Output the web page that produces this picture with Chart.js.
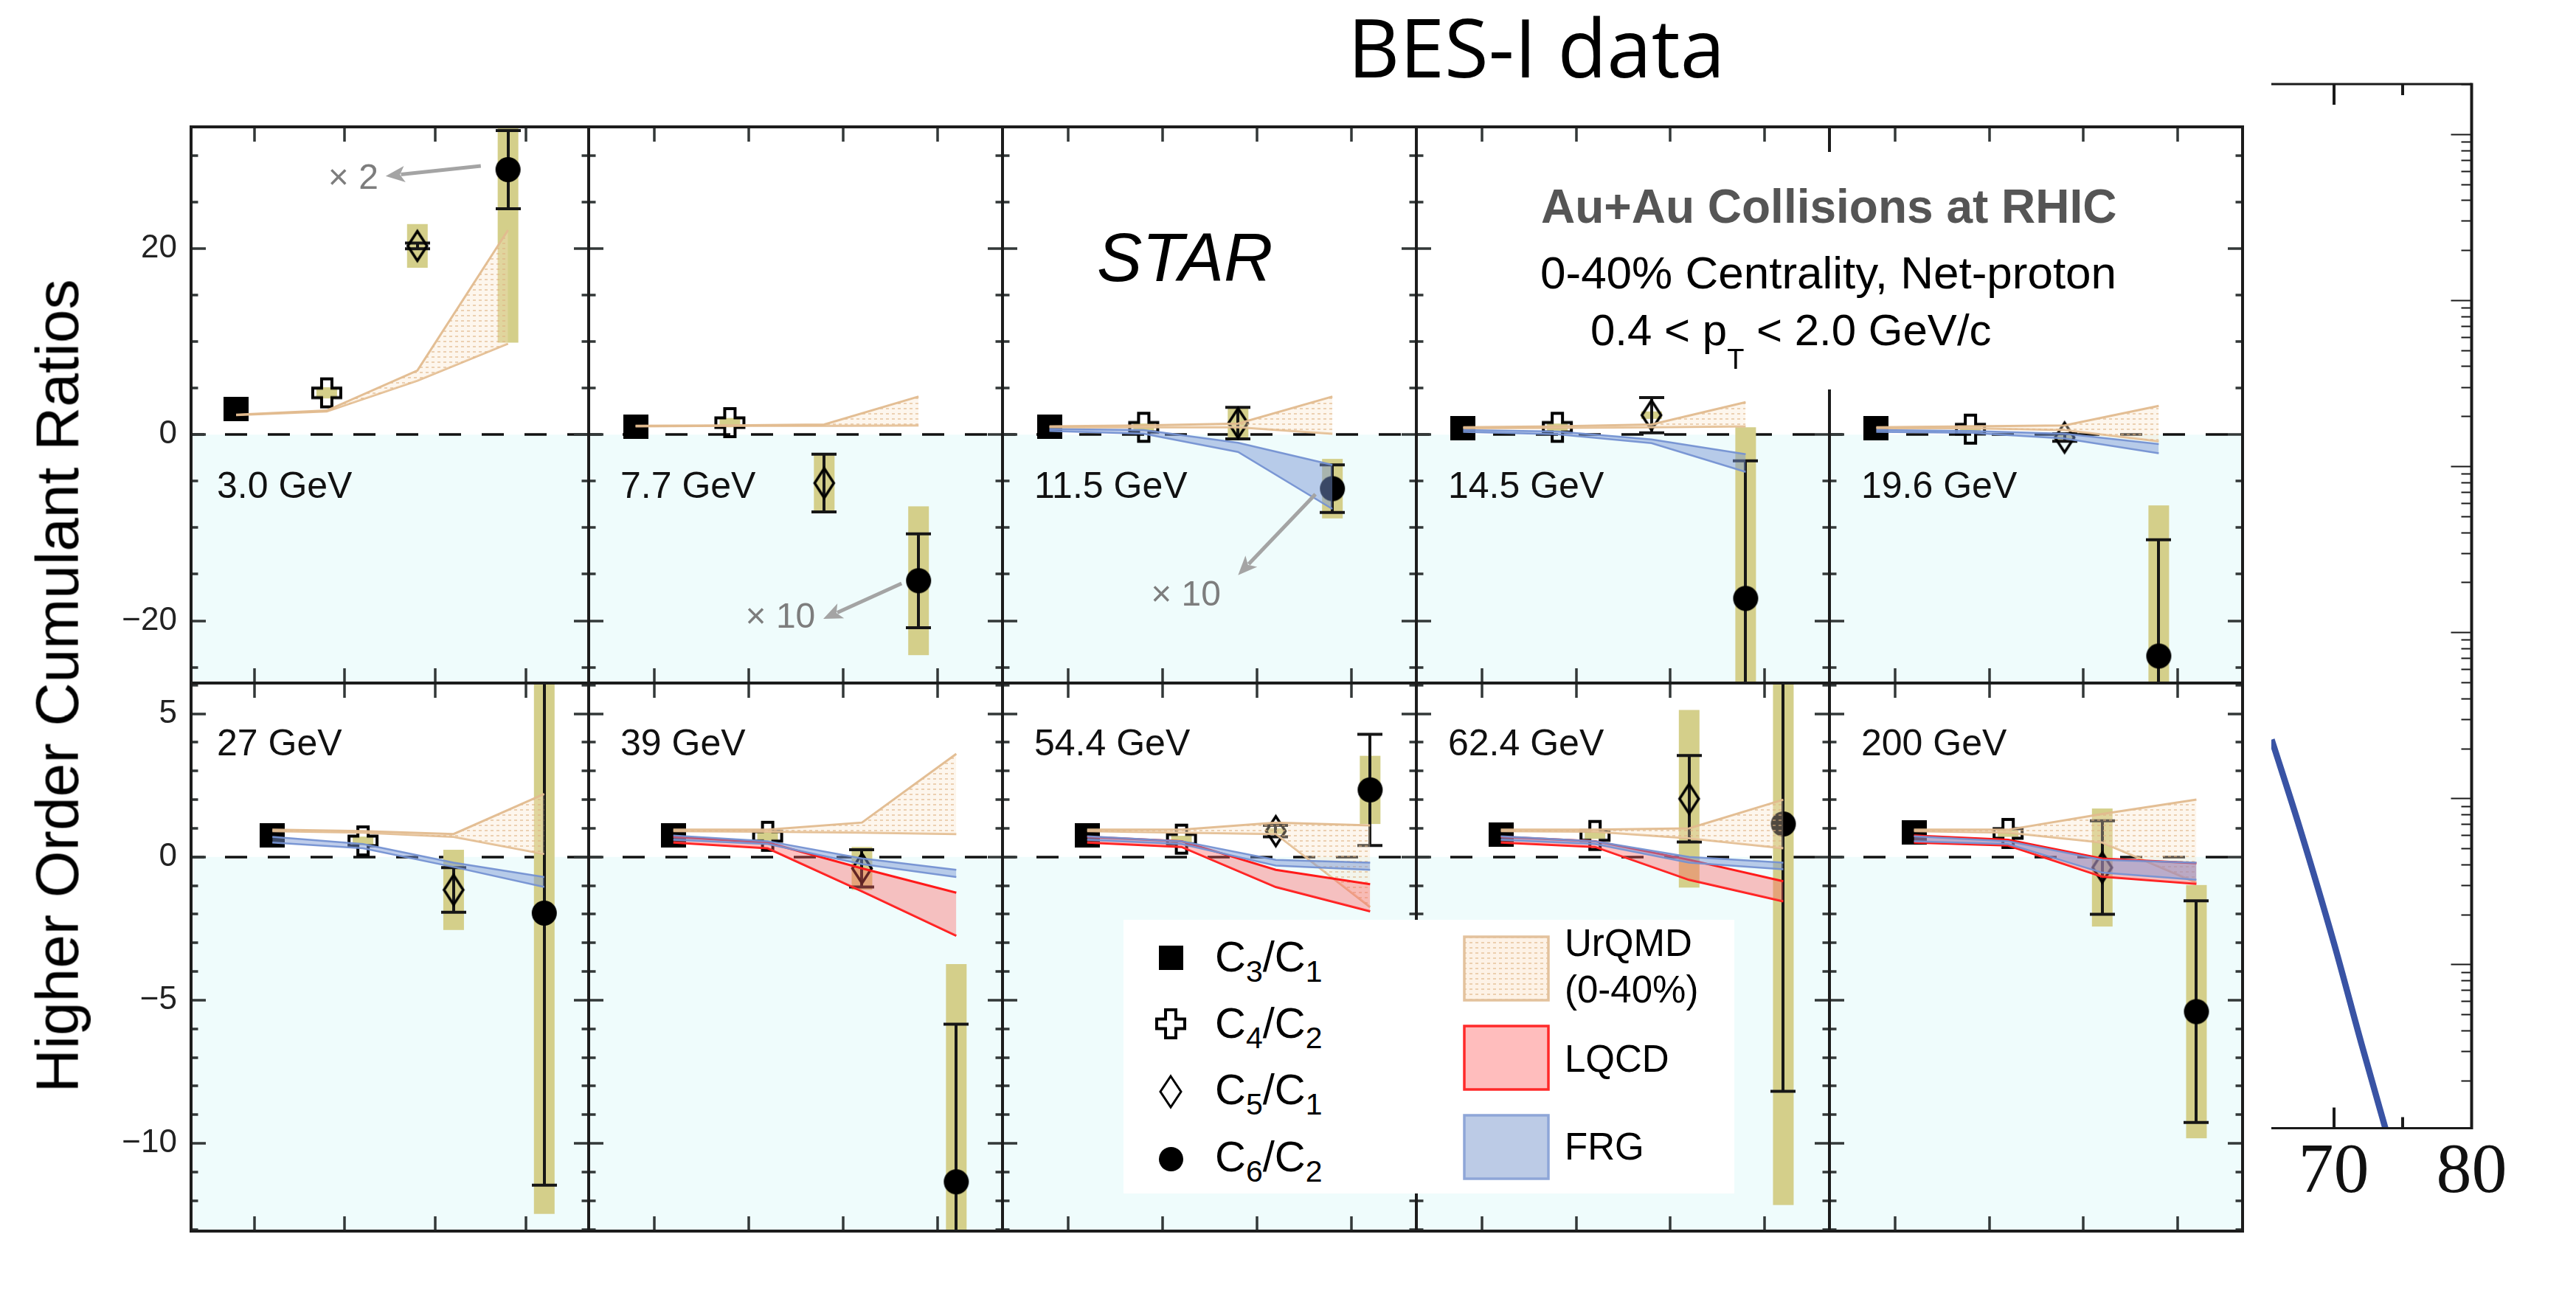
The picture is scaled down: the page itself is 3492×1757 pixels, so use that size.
<!DOCTYPE html>
<html>
<head>
<meta charset="utf-8">
<title>Higher Order Cumulant Ratios — BES-I data</title>
<script src="https://cdn.jsdelivr.net/npm/chart.js@4/dist/chart.umd.min.js"></script>
<style>
  html, body { margin: 0; padding: 0; background: #fff; }
  #fig { position: relative; width: 3492px; height: 1757px; overflow: hidden; background: #fff;
         font-family: "Liberation Sans", Arial, Helvetica, sans-serif; color: #000; }
  #fig canvas { position: absolute; }
  .txt { position: absolute; white-space: nowrap; line-height: 1; }
  .box { position: absolute; background: #fff; }
</style>
</head>
<body>
<div id="fig"></div>
<script>
// ---------------- data ----------------
// one panel per collision energy: top row 3.0–19.6 GeV, bottom row 27–200 GeV
const energies = ["3.0 GeV", "7.7 GeV", "11.5 GeV", "14.5 GeV", "19.6 GeV",
                  "27 GeV", "39 GeV", "54.4 GeV", "62.4 GeV", "200 GeV"];
const ratios = ["C3/C1", "C4/C2", "C5/C1", "C6/C2"];

// measured net-proton cumulant ratios, per energy
const c3c1     = [2.8, 0.9, 0.83, 0.7, 0.7, 0.75, 0.75, 0.75, 0.78, 0.85];
const c4c2     = [4.5, 1.3, 0.8, 0.8, 0.6, 0.56, 0.72, 0.62, 0.75, 0.82];
const c4c2Sys  = [0.6, 0.5, 0.4, 0.4, 0.4, 0.15, 0.15, 0.12, 0.12, 0.12];
const c5c1     = [20.3, -5.2, 1.25, 2.1, -0.3, -1.15, -0.4, 0.9, 2.03, -0.37];
const c5c1Stat = [0.3, 3.1, 1.7, 1.9, 0.4, 0.78, 0.65, 0.2, 1.51, 1.63];
const c5c1Sys  = [2.35, 3.2, 1.7, 0.4, 0.4, 1.4, 0.75, 0.1, 3.1, 2.06];
const c6c2     = [28.5, -15.7, -5.8, -17.6, -23.8, -1.96, -11.34, 2.34, 1.15, -5.4];
const c6c2Stat = [4.2, 5.05, 2.55, 14.8, 12.5, 9.5, 5.5, 1.94, 9.33, 3.87];
const c6c2Sys  = [18.6, 8.0, 3.2, 18.4, 16.2, 10.5, 7.6, 1.19, 13.3, 4.42];

// model bands (upper / lower edge at C3/C1, C4/C2, C5/C1, C6/C2); null = no calculation
const urqmdHigh = [
  [2.15, 2.6, 6.9, 22.0], [0.95, 1.0, 1.1, 4.1], [0.9, 1.0, 1.2, 4.1], [0.8, 0.9, 1.1, 3.5], [0.8, 0.9, 1.0, 3.1],
  [0.95, 0.9, 0.8, 2.2], [0.95, 0.95, 1.2, 3.6], [0.95, 0.95, 1.2, 1.1], [0.95, 0.95, 1.0, 2.0], [0.95, 0.95, 1.5, 2.0]];
const urqmdLow = [
  [2.1, 2.5, 5.8, 9.8], [0.9, 0.95, 0.95, 1.0], [0.8, 0.8, 0.8, 0.1], [0.7, 0.75, 0.8, 0.9], [0.7, 0.7, 0.5, -0.7],
  [0.9, 0.85, 0.7, 0.1], [0.9, 0.88, 0.85, 0.8], [0.9, 0.85, 0.8, -1.75], [0.9, 0.88, 0.65, 0.3], [0.9, 0.85, 0.5, -0.9]];
const lqcdHigh = [null, null, null, null, null, null,
  [0.7, 0.5, -0.4, -1.25], [0.7, 0.55, -0.45, -0.95], [0.7, 0.55, -0.1, -0.85], [0.75, 0.6, -0.06, -0.22]];
const lqcdLow = [null, null, null, null, null, null,
  [0.5, 0.3, -1.2, -2.75], [0.5, 0.35, -1.05, -1.9], [0.5, 0.35, -0.8, -1.55], [0.5, 0.4, -0.69, -0.94]];
const frgHigh = [null, null,
  [0.6, 0.5, -0.87, -3.24], [0.5, 0.35, -0.5, -2.1], [0.5, 0.4, 0.1, -1.0],
  [0.7, 0.45, -0.2, -0.7], [0.75, 0.55, -0.05, -0.45], [0.72, 0.55, -0.1, -0.2], [0.72, 0.55, 0.0, -0.2], [0.72, 0.55, -0.1, -0.2]];
const frgLow = [null, null,
  [0.4, 0.1, -1.86, -7.98], [0.3, 0.05, -0.9, -4.0], [0.3, 0.2, -0.4, -2.0],
  [0.5, 0.3, -0.35, -1.05], [0.6, 0.45, -0.25, -0.7], [0.6, 0.45, -0.3, -0.45], [0.6, 0.45, -0.2, -0.43], [0.55, 0.45, -0.55, -0.8]];

// where each ratio sits on a panel's x axis (top row left of the tick marks, bottom row right of them)
const xTopRow = [0.8, 1.8, 2.8, 3.8];
const xBottomRow = [1.2, 2.2, 3.2, 4.2];

// tick marks
const xTicks = [1, 2, 3, 4];
const topYTicks = [-20, 0, 20];
const bottomYTicks = [-10, -5, 0, 5];

// partial panel on the right edge
const sideX = [65.5, 67.5, 70, 72, 74];
const sideY = [22.6, 6.8, 1.36, 0.336, 0.087];
const sideXTicks = [70, 80];

// ---------------- layout & style ----------------
const COL_L = [259, 798, 1359, 1920, 2480];
const COL_R = [798, 1359, 1920, 2480, 3040];
const ROW_T = [172, 926];
const ROW_B = [926, 1669];
const X_RANGE = [0.303, 4.69];
const Y_RANGE = [[-26.7, 33.1], [-13.06, 6.07]];
const Y_MINOR = [5, 1];
const LABEL_W = 139;
const PAD = 6;

const SANS = '"Liberation Sans", Arial, Helvetica, sans-serif';
const SERIF = '"Liberation Serif", "Times New Roman", serif';
const OPEN = '"Open Sans", "Liberation Sans", sans-serif';
const BASELINE = { sans: 0.8465, serif: 0.8375, open: 0.888 };

const BELOW_ZERO = '#effcfc';
const SYS_FILL = '#d4cf8a';
const FRAME = '#1c1c1c';
const TICK = '#333838';
const ARROW = '#a4a4a4';
const FRG_LINE = 'rgba(116,145,210,0.95)', FRG_FILL = 'rgba(122,150,214,0.48)';
const LQCD_LINE = '#ff1a1a', LQCD_FILL = 'rgba(255,95,95,0.38)';
const URQMD_LINE = 'rgba(226,186,142,0.95)';

const annotations = [
  { panel: 0, text: '× 2',  tx: 1.815, ty: 26.4,  from: [3.5, 28.9],  to: [2.45, 27.8] },
  { panel: 1, text: '× 10', tx: 1.965, ty: -20.8, from: [3.62, -16.0], to: [2.79, -19.8] },
  { panel: 2, text: '× 10', tx: 1.876, ty: -18.4, from: [3.62, -6.4],  to: [2.80, -15.1] }
];

Chart.defaults.font.family = SANS;
const fig = document.getElementById('fig');

// ---------------- helpers ----------------
function makeCanvas(w, h) {
  const c = document.createElement('canvas');
  c.width = w; c.height = h;
  return c;
}
function squareGlyph(w, h) {
  const c = makeCanvas(w, h), g = c.getContext('2d');
  g.fillStyle = '#000'; g.fillRect(0, 0, w, h);
  return c;
}
function circleGlyph(d) {
  const c = makeCanvas(d + 2, d + 2), g = c.getContext('2d');
  g.fillStyle = '#000';
  g.beginPath(); g.arc(c.width / 2, c.height / 2, d / 2, 0, Math.PI * 2); g.fill();
  return c;
}
function crossGlyph(w, h, bw, bh, lw) {
  const c = makeCanvas(w + lw + 4, h + lw + 4), g = c.getContext('2d');
  const cx = c.width / 2, cy = c.height / 2, hw = w / 2, hh = h / 2, a = bw / 2, b = bh / 2;
  g.beginPath();
  g.moveTo(cx - a, cy - hh); g.lineTo(cx + a, cy - hh); g.lineTo(cx + a, cy - b); g.lineTo(cx + hw, cy - b);
  g.lineTo(cx + hw, cy + b); g.lineTo(cx + a, cy + b); g.lineTo(cx + a, cy + hh); g.lineTo(cx - a, cy + hh);
  g.lineTo(cx - a, cy + b); g.lineTo(cx - hw, cy + b); g.lineTo(cx - hw, cy - b); g.lineTo(cx - a, cy - b);
  g.closePath();
  g.lineWidth = lw; g.lineJoin = 'miter'; g.strokeStyle = '#000'; g.stroke();
  return c;
}
function diamondGlyph(w, h, lw) {
  const c = makeCanvas(w + 2 * lw + 6, h + 2 * lw + 8), g = c.getContext('2d');
  const cx = c.width / 2, cy = c.height / 2;
  g.beginPath();
  g.moveTo(cx, cy - h / 2); g.lineTo(cx + w / 2, cy); g.lineTo(cx, cy + h / 2); g.lineTo(cx - w / 2, cy);
  g.closePath();
  g.lineWidth = lw; g.lineJoin = 'miter'; g.strokeStyle = '#000'; g.stroke();
  return c;
}
function dottedTile() {
  const t = makeCanvas(8, 7), g = t.getContext('2d');
  g.fillStyle = 'rgba(250,228,200,0.32)'; g.fillRect(0, 0, 8, 7);
  g.fillStyle = 'rgba(222,176,128,0.55)'; g.fillRect(1, 2, 4, 2);
  return t;
}
function addText(html, left, baseline, size, opts = {}) {
  const d = document.createElement('div');
  d.className = 'txt';
  const fam = opts.family || 'sans';
  d.style.fontFamily = fam === 'serif' ? SERIF : fam === 'open' ? OPEN : SANS;
  d.style.fontSize = size + 'px';
  d.style.left = left + 'px';
  d.style.top = (baseline - BASELINE[fam] * size) + 'px';
  if (opts.color) d.style.color = opts.color;
  if (opts.weight) d.style.fontWeight = opts.weight;
  if (opts.italic) d.style.fontStyle = 'italic';
  d.innerHTML = html;
  fig.appendChild(d);
  return d;
}
function sub(t, size, drop) {
  return `<span style="font-size:${size}px;position:relative;top:${drop}px">${t}</span>`;
}
function addBox(l, t, w, h) {
  const d = document.createElement('div');
  d.className = 'box';
  Object.assign(d.style, { left: l + 'px', top: t + 'px', width: w + 'px', height: h + 'px' });
  fig.appendChild(d);
  return d;
}
const fmtTick = v => (v < 0 ? '\u2212' + Math.abs(v) : String(v));

const glyphs = [squareGlyph(34, 33), crossGlyph(38, 38, 14, 13, 4), diamondGlyph(26, 40, 3.5), circleGlyph(34)];

// ---------------- panel decorations ----------------
function panelPlugin(cfg) {
  return {
    id: 'panelDecor',
    beforeDraw(chart) {
      const { ctx, chartArea: a, scales: { y } } = chart;
      const y0 = y.getPixelForValue(0);
      ctx.save();
      ctx.fillStyle = '#ffffff';
      ctx.fillRect(a.left, a.top, a.right - a.left, y0 - a.top);
      ctx.fillStyle = BELOW_ZERO;
      ctx.fillRect(a.left, y0, a.right - a.left, a.bottom - y0);
      ctx.restore();
    },
    beforeDatasetsDraw(chart) {
      const { ctx, chartArea: a, scales: { y } } = chart;
      const y0 = Math.round(y.getPixelForValue(0));
      ctx.save();
      ctx.strokeStyle = '#111'; ctx.lineWidth = 3.5;
      ctx.setLineDash([30, 28]); ctx.lineDashOffset = 12;
      ctx.beginPath(); ctx.moveTo(a.left, y0); ctx.lineTo(a.right, y0); ctx.stroke();
      ctx.restore();
    },
    beforeDatasetDraw(chart, args) {
      const ds = chart.data.datasets[args.index];
      if (!ds.isMeasured) return;
      const { ctx, chartArea: a, scales: { x, y } } = chart;
      ctx.save();
      ctx.beginPath(); ctx.rect(a.left, a.top, a.right - a.left, a.bottom - a.top); ctx.clip();
      // systematic boxes
      cfg.errors.forEach((e, k) => {
        if (!(e.sys > 0)) return;
        const p = ds.data[k], px = x.getPixelForValue(p.x);
        const t = y.getPixelForValue(p.y + e.sys), b = y.getPixelForValue(p.y - e.sys);
        ctx.fillStyle = SYS_FILL;
        ctx.fillRect(px - 14, t, 28, b - t);
      });
      // statistical bars
      ctx.strokeStyle = '#161616'; ctx.lineWidth = 4;
      cfg.errors.forEach((e, k) => {
        if (!(e.stat > 0)) return;
        const p = ds.data[k], px = Math.round(x.getPixelForValue(p.x));
        const t = y.getPixelForValue(p.y + e.stat), b = y.getPixelForValue(p.y - e.stat);
        ctx.beginPath();
        ctx.moveTo(px, t); ctx.lineTo(px, b);
        ctx.moveTo(px - 17, t); ctx.lineTo(px + 17, t);
        ctx.moveTo(px - 17, b); ctx.lineTo(px + 17, b);
        ctx.stroke();
      });
      ctx.restore();
    },
    afterDatasetsDraw(chart) {
      if (!cfg.arrow) return;
      const { ctx, scales: { x, y } } = chart;
      const x1 = x.getPixelForValue(cfg.arrow.from[0]), y1 = y.getPixelForValue(cfg.arrow.from[1]);
      const x2 = x.getPixelForValue(cfg.arrow.to[0]), y2 = y.getPixelForValue(cfg.arrow.to[1]);
      const ang = Math.atan2(y2 - y1, x2 - x1), c = Math.cos(ang), s = Math.sin(ang);
      const head = 26, hw = 11;
      ctx.save();
      ctx.strokeStyle = ARROW; ctx.fillStyle = ARROW; ctx.lineWidth = 5;
      ctx.beginPath(); ctx.moveTo(x1, y1); ctx.lineTo(x2 - c * head * 0.8, y2 - s * head * 0.8); ctx.stroke();
      ctx.beginPath();
      ctx.moveTo(x2, y2);
      ctx.lineTo(x2 - c * head - s * hw, y2 - s * head + c * hw);
      ctx.lineTo(x2 - c * head * 0.75, y2 - s * head * 0.75);
      ctx.lineTo(x2 - c * head + s * hw, y2 - s * head - c * hw);
      ctx.closePath(); ctx.fill();
      ctx.restore();
    },
    afterDraw(chart) {
      const { ctx, chartArea: a, scales: { x, y } } = chart;
      ctx.save();
      ctx.strokeStyle = TICK; ctx.lineWidth = 3.5;
      ctx.beginPath();
      for (const v of xTicks) {
        const px = Math.round(x.getPixelForValue(v));
        ctx.moveTo(px, a.top); ctx.lineTo(px, a.top + 20);
        ctx.moveTo(px, a.bottom); ctx.lineTo(px, a.bottom - 20);
      }
      const step = cfg.minorStep;
      for (let k = Math.ceil(y.min / step); k * step <= y.max; k++) {
        const v = k * step, py = Math.round(y.getPixelForValue(v));
        const len = cfg.majors.some(m => Math.abs(m - v) < 1e-9) ? 20 : 9.5;
        ctx.moveTo(a.left, py); ctx.lineTo(a.left + len, py);
        ctx.moveTo(a.right, py); ctx.lineTo(a.right - len, py);
      }
      ctx.stroke();
      ctx.strokeStyle = FRAME; ctx.lineWidth = 4;
      ctx.strokeRect(a.left, a.top, a.right - a.left, a.bottom - a.top);
      ctx.restore();
    }
  };
}

// ---------------- panels ----------------
const charts = [];
const canvasPos = [];
for (let i = 0; i < energies.length; i++) {
  const row = i < 5 ? 0 : 1, col = i % 5, first = col === 0;
  const L = COL_L[col], R = COL_R[col], T = ROW_T[row], B = ROW_B[row];
  const padL = first ? 0 : PAD, axisW = first ? LABEL_W : 0;
  const cx = L - axisW - padL, cy = T - PAD;
  const cw = (R - L) + axisW + padL + PAD, ch = (B - T) + 2 * PAD;
  const canvas = makeCanvas(cw, ch);
  canvas.style.left = cx + 'px'; canvas.style.top = cy + 'px';
  canvas.style.width = cw + 'px'; canvas.style.height = ch + 'px';
  fig.appendChild(canvas);
  canvasPos.push([cx, cy]);

  const xs = row === 0 ? xTopRow : xBottomRow;
  const pts = arr => arr.map((v, k) => ({ x: xs[k], y: v }));
  const pattern = canvas.getContext('2d').createPattern(dottedTile(), 'repeat');
  const datasets = [];
  const band = (high, low, line, fill, width) => {
    datasets.push({ type: 'line', data: pts(high), borderColor: line, borderWidth: width,
                    backgroundColor: fill, fill: '+1', pointRadius: 0, tension: 0 });
    datasets.push({ type: 'line', data: pts(low), borderColor: line, borderWidth: width,
                    fill: false, pointRadius: 0, tension: 0 });
  };
  if (frgHigh[i]) band(frgHigh[i], frgLow[i], FRG_LINE, FRG_FILL, 2.5);
  if (lqcdHigh[i]) band(lqcdHigh[i], lqcdLow[i], LQCD_LINE, LQCD_FILL, 3);
  band(urqmdHigh[i], urqmdLow[i], URQMD_LINE, pattern, 3);
  datasets.push({
    type: 'line', label: ratios.join(', '), isMeasured: true, showLine: false,
    data: pts([c3c1[i], c4c2[i], c5c1[i], c6c2[i]]),
    pointStyle: glyphs, pointRadius: 18, pointHoverRadius: 18
  });

  const errors = [
    { stat: 0, sys: 0 },
    { stat: 0, sys: c4c2Sys[i] },
    { stat: c5c1Stat[i], sys: c5c1Sys[i] },
    { stat: c6c2Stat[i], sys: c6c2Sys[i] }
  ];
  const ann = annotations.find(n => n.panel === i);
  const majors = row === 0 ? topYTicks : bottomYTicks;

  const chart = new Chart(canvas, {
    type: 'line',
    data: { datasets },
    options: {
      responsive: false, animation: false, devicePixelRatio: 1, events: [],
      layout: { autoPadding: false, padding: { left: padL, right: PAD, top: PAD, bottom: PAD } },
      plugins: { legend: { display: false }, tooltip: { enabled: false } },
      scales: {
        x: { type: 'linear', min: X_RANGE[0], max: X_RANGE[1], display: false },
        y: {
          type: 'linear', min: Y_RANGE[row][0], max: Y_RANGE[row][1], display: first, position: 'left',
          grid: { display: false, drawTicks: false }, border: { display: false },
          ticks: { font: { family: SANS, size: 44 }, color: '#222', padding: 19, autoSkip: false,
                   callback: v => fmtTick(v) },
          afterBuildTicks: s => { s.ticks = majors.map(v => ({ value: v })); },
          afterFit: s => {
            s.width = first ? LABEL_W : 0;
            s.paddingTop = 0; s.paddingBottom = 0; s.paddingLeft = 0; s.paddingRight = 0;
          }
        }
      }
    },
    plugins: [panelPlugin({ errors, majors, minorStep: Y_MINOR[row], arrow: ann ? { from: ann.from, to: ann.to } : null })]
  });
  charts.push(chart);
}

// ---------------- partial panel at the right edge ----------------
(function () {
  const left = 3079, top = 100, w = 3492 - 3079, h = 1657;
  const canvas = makeCanvas(w, h);
  Object.assign(canvas.style, { left: left + 'px', top: top + 'px', width: w + 'px', height: h + 'px' });
  fig.appendChild(canvas);
  const sidePlugin = {
    id: 'sideFrame',
    afterDraw(chart) {
      const { ctx, chartArea: a, scales: { x, y } } = chart;
      ctx.save();
      ctx.strokeStyle = '#1a1a1a';
      ctx.lineWidth = 3;
      ctx.beginPath();
      ctx.moveTo(a.left, a.top); ctx.lineTo(a.right, a.top);
      ctx.moveTo(a.left, a.bottom); ctx.lineTo(a.right, a.bottom);
      ctx.stroke();
      ctx.lineWidth = 4;
      ctx.beginPath(); ctx.moveTo(a.right, a.top - 1.5); ctx.lineTo(a.right, a.bottom + 1.5); ctx.stroke();
      ctx.lineWidth = 4;
      ctx.beginPath();
      [[70, 28], [75, 15]].forEach(([v, len]) => {
        const px = Math.round(x.getPixelForValue(v));
        ctx.moveTo(px, a.top); ctx.lineTo(px, a.top + len);
        ctx.moveTo(px, a.bottom); ctx.lineTo(px, a.bottom - len);
      });
      ctx.stroke();
      ctx.lineWidth = 2;
      ctx.beginPath();
      for (let k = -1; k <= 5; k++) {
        for (let m = 1; m <= 9; m++) {
          const v = m * Math.pow(10, k);
          if (v < y.min || v > y.max) continue;
          const py = Math.round(y.getPixelForValue(v)) + 0.5;
          const len = m === 1 ? 28 : 14;
          ctx.moveTo(a.right, py); ctx.lineTo(a.right - len, py);
        }
      }
      ctx.stroke();
      ctx.restore();
    }
  };
  new Chart(canvas, {
    type: 'line',
    data: { datasets: [{ data: sideX.map((v, k) => ({ x: v, y: sideY[k] })), borderColor: '#3953a4',
                         borderWidth: 8.5, pointRadius: 0, cubicInterpolationMode: 'monotone', fill: false }] },
    options: {
      responsive: false, animation: false, devicePixelRatio: 1, events: [],
      layout: { autoPadding: false, padding: { left: 0, right: 141.5, top: 14, bottom: 0 } },
      plugins: { legend: { display: false }, tooltip: { enabled: false } },
      scales: {
        x: {
          type: 'linear', min: 65.48, max: 80, position: 'bottom',
          grid: { display: false, drawTicks: false }, border: { display: false },
          ticks: { font: { family: SERIF, size: 96 }, color: '#111', padding: 4, autoSkip: false, maxRotation: 0 },
          afterBuildTicks: s => { s.ticks = sideXTicks.map(v => ({ value: v })); },
          afterFit: s => { s.height = 227.6; s.paddingLeft = 0; s.paddingRight = 0; s.paddingTop = 0; s.paddingBottom = 0; }
        },
        y: { type: 'logarithmic', min: 0.1033, max: 2.0e5, display: false }
      }
    },
    plugins: [sidePlugin]
  });
})();

// ---------------- covers, legends and text ----------------
// white panel behind the run description hides the 14.5/19.6 GeV divider there
addBox(2455, 206, 50, 322);

// energy labels
energies.forEach((e, i) => {
  const row = i < 5 ? 0 : 1, col = i % 5;
  addText(e, COL_L[col] + (col === 0 ? 35 : 43), row === 0 ? 675 : 1024, 50, { color: '#111' });
});

// scale-factor notes next to their arrows
annotations.forEach(n => {
  const ch = charts[n.panel], [ox, oy] = canvasPos[n.panel];
  addText(n.text, ox + ch.scales.x.getPixelForValue(n.tx), oy + ch.scales.y.getPixelForValue(n.ty), 48, { color: '#7d7d7d' });
});

// legend of measured ratios and model bands
addBox(1523, 1247, 828, 371);
const legendRows = [1298, 1388, 1480, 1571];
const legendGlyphs = [squareGlyph(33, 33), crossGlyph(38, 38, 14, 13, 4), diamondGlyph(28, 42, 3), circleGlyph(33)];
legendGlyphs.forEach((g, k) => {
  g.style.left = (1587 - g.width / 2) + 'px';
  g.style.top = (legendRows[k] - g.height / 2) + 'px';
  fig.appendChild(g);
});
const legendText = [
  `C${sub('3', 41, 14)}/C${sub('1', 41, 14)}`,
  `C${sub('4', 41, 14)}/C${sub('2', 41, 14)}`,
  `C${sub('5', 41, 14)}/C${sub('1', 41, 14)}`,
  `C${sub('6', 41, 14)}/C${sub('2', 41, 14)}`
];
const legendBase = [1317.5, 1407, 1497, 1588];
legendText.forEach((t, k) => addText(t, 1647, legendBase[k], 58));

function swatch(top, drawFill, stroke) {
  const c = makeCanvas(118, 90), g = c.getContext('2d');
  drawFill(g);
  g.strokeStyle = stroke; g.lineWidth = 3.5;
  g.strokeRect(2, 2, 114, 86);
  c.style.left = '1983px'; c.style.top = (top - 2) + 'px';
  fig.appendChild(c);
}
swatch(1270, g => { g.fillStyle = '#fffaf5'; g.fillRect(2, 2, 114, 86); g.fillStyle = g.createPattern(dottedTile(), 'repeat'); g.fillRect(2, 2, 114, 86); }, '#e3c29d');
swatch(1391, g => { g.fillStyle = '#ffbdbd'; g.fillRect(2, 2, 114, 86); }, '#ff2a2a');
swatch(1512, g => { g.fillStyle = '#bccbe6'; g.fillRect(2, 2, 114, 86); }, '#8ea6d8');
addText('UrQMD', 2121, 1295.7, 51);
addText('(0-40%)', 2121, 1358.7, 51);
addText('LQCD', 2121, 1453.2, 51);
addText('FRG', 2121, 1572, 51);

// run description
addText('STAR', 1487, 381, 92, { italic: true });
addText('Au+Au Collisions at RHIC', 2089, 301.7, 64, { weight: 'bold', color: '#555' });
addText('0-40% Centrality, Net-proton', 2088, 391, 62);
addText(`0.4 &lt; p${sub('T', 38, 32)} &lt; 2.0 GeV/c`, 2156, 468.4, 60);

// figure heading
addText('BES-I data', 1827, 104.7, 109, { family: 'open' });

// y-axis title
(function () {
  const d = document.createElement('div');
  d.className = 'txt';
  d.textContent = 'Higher Order Cumulant Ratios';
  Object.assign(d.style, { left: '0px', top: '0px', fontSize: '82px', fontFamily: SANS, transformOrigin: '0 0',
                           transform: 'translate(106px, 930px) rotate(-90deg) translate(-50%, -0.8465em)' });
  fig.appendChild(d);
})();
</script>
</body>
</html>
